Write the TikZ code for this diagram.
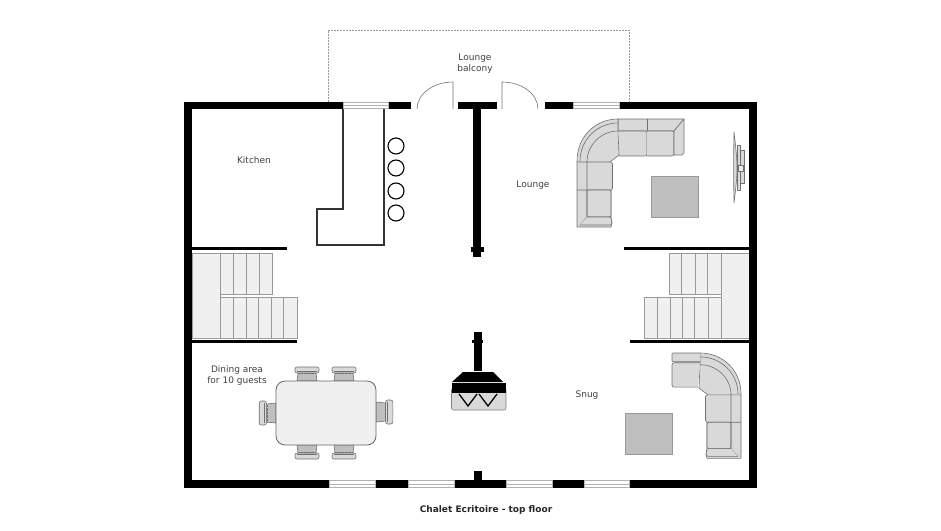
\documentclass[tikz,border=0pt]{standalone}
\usepackage{fontspec}
\setmainfont{DejaVu Sans}
\usepackage{color}
\usetikzlibrary{calc}
\definecolor{myfill}{RGB}{217, 217, 217}
\definecolor{mystair}{RGB}{240, 240, 240}
\definecolor{mytable}{RGB}{191, 191, 191}
\definecolor{myline}{RGB}{112, 112, 112}
\definecolor{mytext}{RGB}{64, 64, 64}
\tikzset{
  wall/.style = {fill=black, draw=none},
  partition/.style = {line width=3pt},
  windowpane/.style = {fill=white, draw=black!30, line width=1pt},
  doorleaf/.style = {draw=black!55, line width=0.6pt},
  treadbox/.style = {fill=mystair, draw=black!40, line width=0.9pt},
  sofapart/.style = {fill=myfill, draw=myline, line width=0.6pt, line join=round},
  lowtable/.style = {fill=mytable, draw=black!40, line width=0.8pt},
  stool/.style = {draw=black, line width=1.1pt},
  roomlabel/.style = {font=\fontsize{9}{11}\selectfont, text=mytext, align=center, inner sep=0pt},
  pics/chair/.style = {code = {
    \draw[sofapart, fill=black!25] (-10, 0) -- (-9, -8) -- (9, -8) -- (10, 0) -- cycle;
    \draw[sofapart, rounded corners=2pt] (-12, -8) rectangle (12, -14);
    \draw[myline, line width=0.7pt] (-10, -9.5) -- (10, -9.5);
    \draw[myline, line width=0.4pt, densely dotted] (-9, -7.5) -- (9, -7.5);
  }}
}
\newcommand{\sofabody}{
  \draw[sofapart] (0, 108) -- (0, 42) .. controls (0, 18) and (18, 0) .. (41, 0) -- (41, 12) -- (42, 36) -- (33, 43) -- (35.5, 46) -- (35.5, 68) -- (34, 71) -- (34, 98) -- (35, 104) -- (34, 108) -- cycle;
  \draw[sofapart] (3, 42) .. controls (3, 21) and (20, 4) .. (41, 4);
  \draw[sofapart] (10, 43) .. controls (10, 26) and (24, 12) .. (41, 12);
  \draw[sofapart, rounded corners=2pt] (10, 43) -- (35.5, 43) -- (35.5, 71) -- (10, 71);
  \draw[sofapart, rounded corners=2pt] (10, 71) -- (34, 71) -- (34, 98) -- (10, 98) -- cycle;
  \draw[sofapart] (10, 43) -- (10, 98) (0, 43) -- (10, 43) (0, 71) -- (10, 71) (3, 106) -- (10, 98);
  \draw[sofapart, rounded corners=1pt] (10, 98) -- (34, 98) -- (35, 104) -- (34, 106) -- (3, 106);
}
\begin{document}
\begin{tikzpicture}[x=1pt, y=-1pt]
\useasboundingbox (0, 0) rectangle (941, 530);
% balcony
\draw[black!40, line width=0.6pt, dash pattern=on 2pt off 1pt] (328, 102) -- (328, 30) -- (629, 30) -- (629, 102);
% stairs left
\draw[treadbox] (192, 253.5) rectangle (220, 338);
\foreach \xa/\xb in {220/233, 233/246, 246/259, 259/272}{
  \draw[treadbox] (\xa, 253.5) rectangle (\xb, 294);
}
\foreach \xa/\xb in {220/233, 233/246, 246/258, 258/271, 271/283, 283/297}{
  \draw[treadbox] (\xa, 297) rectangle (\xb, 338);
}
% stairs right
\draw[treadbox] (721, 253.5) rectangle (749, 338);
\foreach \xa/\xb in {669/681, 681/695, 695/707, 707/721}{
  \draw[treadbox] (\xa, 253.5) rectangle (\xb, 294);
}
\foreach \xa/\xb in {644/657, 657/670, 670/682, 682/694, 694/708, 708/721}{
  \draw[treadbox] (\xa, 297) rectangle (\xb, 338);
}
% outer walls
\fill[wall] (184, 102) rectangle (411, 109);
\fill[wall] (458, 102) rectangle (497, 109);
\fill[wall] (545, 102) rectangle (757, 109);
\fill[wall] (184, 102) rectangle (192, 488);
\fill[wall] (749, 102) rectangle (757, 488);
\fill[wall] (184, 480) rectangle (757, 488);
\fill[wall] (474, 471) rectangle (482, 480);
% centre wall
\fill[wall] (473, 109) rectangle (481, 257);
\fill[wall] (471, 247) rectangle (484, 252);
% windows
\foreach \xa/\xb in {343/388, 573/619}{
  \draw[windowpane] (\xa, 102.5) rectangle (\xb, 108.5);
  \draw[black!30, line width=0.6pt] (\xa, 105.5) -- (\xb, 105.5);
}
\foreach \xa/\xb in {329/375, 408/454, 506/552, 584/629}{
  \draw[windowpane] (\xa, 480.5) rectangle (\xb, 487.5);
  \draw[black!30, line width=0.6pt] (\xa, 484) -- (\xb, 484);
}
% doors
\draw[doorleaf] (453, 109) -- (453, 82) arc[start angle=90, end angle=180, x radius=36, y radius=-27];
\draw[doorleaf] (502, 109) -- (502, 82) arc[start angle=90, end angle=0, x radius=36, y radius=-27];
% partitions
\draw[partition] (192, 248) -- (287, 248);
\draw[partition] (192, 341) -- (297, 341);
\draw[partition] (624, 248) -- (749, 248);
\draw[partition] (630, 341) -- (749, 341);
% kitchen counter
\draw[black!80, line width=1.6pt] (343, 109) -- (343, 209) -- (317, 209) -- (317, 245) -- (384, 245) -- (384, 109);
\foreach \yy in {146, 168, 191, 213}{
  \draw[stool] (396, \yy) circle (8);
}
% lounge sofa
\begin{scope}[shift={(577, 119)}]
\draw[sofapart] (41, 0) -- (107, 0) -- (97, 12) -- (41, 12) -- cycle;
\draw[sofapart] (70, 0) -- (70, 12);
\draw[sofapart, rounded corners=2pt] (42, 12) -- (70, 12) -- (70, 37) -- (42, 37);
\draw[sofapart, rounded corners=2pt] (70, 12) -- (97, 12) -- (97, 37) -- (70, 37);
\draw[sofapart] (97, 12) -- (107, 0) -- (107, 34) -- (105, 36) -- (97, 36) -- cycle;
\sofabody
\end{scope}
\draw[lowtable] (651, 176) rectangle (698, 217);
% tv
\draw[sofapart] (734, 132) .. controls (736, 150) and (737, 158) .. (737, 168) .. controls (737, 178) and (736, 186) .. (734, 203) .. controls (733.5, 180) and (733.5, 155) .. (734, 132);
\draw[sofapart] (737, 145) rectangle (740, 190);
\draw[sofapart] (740, 150) rectangle (744.5, 183);
\draw[sofapart, fill=mystair] (738, 165) rectangle (743, 171);
% snug sofa
\begin{scope}[shift={(741, 353)}, xscale=-1, yscale=0.975]
\sofabody
\draw[sofapart, rounded corners=2pt] (41, 10) -- (69, 10) -- (69, 35) -- (43, 35);
\draw[sofapart, rounded corners=1pt] (41, 0) -- (69, 0) -- (69, 9) -- (41, 9);
\end{scope}
\draw[lowtable] (625, 413) rectangle (672, 454);
% dining
\pic at (307, 381) {chair};
\pic at (344, 381) {chair};
\pic[yscale=-1] at (307, 445) {chair};
\pic[yscale=-1] at (344, 445) {chair};
\pic[rotate=90, yscale=1.2] at (276, 413) {chair};
\pic[rotate=-90, yscale=1.2] at (376, 412) {chair};
\draw[fill=mystair, draw=black!60, line width=0.8pt, rounded corners=9pt] (276, 381) rectangle (376, 445);
% fireplace
\fill[wall] (474, 332) rectangle (482, 371);
\fill[wall] (472, 340) rectangle (483, 343);
\fill[wall] (463, 372) -- (493, 372) -- (503, 382) -- (452, 382) -- cycle;
\draw[fill=myfill, draw=black!50, line width=0.6pt, rounded corners=2pt] (451.5, 388) rectangle (506, 410);
\fill[wall] (451.5, 382.7) rectangle (506, 393);
\draw[line width=1.3pt] (459, 394) -- (468, 406) -- (477, 394);
\draw[line width=1.3pt] (479, 394) -- (488, 406) -- (497, 394);
% labels
\node[roomlabel] (kitchen) at (254, 160.5) {Kitchen};
\node[roomlabel] (balcony) at (475, 63.5) {Lounge\\balcony};
\node[roomlabel] (lounge) at (533, 185.5) {Lounge};
\node[roomlabel] (dining) at (237, 375.5) {Dining area\\for 10 guests};
\node[roomlabel] (snug) at (587, 395) {Snug};
\node[roomlabel, font=\fontsize{9}{11}\selectfont\bfseries, text=black!85] (title) at (486, 510) {Chalet Ecritoire - top floor};
\end{tikzpicture}
\end{document}
